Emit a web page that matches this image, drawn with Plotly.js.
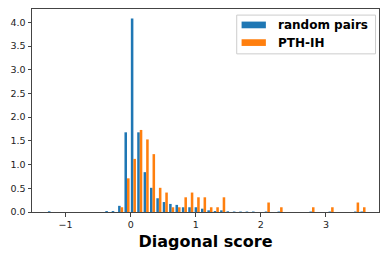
<!DOCTYPE html>
<html>
<head>
<meta charset="utf-8">
<script src="https://cdn.plot.ly/plotly-3.0.1.min.js"></script>
<style>html,body{margin:0;padding:0;background:#fff;}#chart{width:380px;height:255px;}</style>
</head>
<body>
<div id="chart"></div>
<script>
// Histogram bin centers (bin width ~0.098)
const binCenters = [-1.232,-1.134,-1.036,-0.938,-0.840,-0.742,-0.644,-0.546,-0.448,-0.350,
  -0.252,-0.154,-0.056,0.042,0.140,0.238,0.336,0.434,0.532,0.630,
  0.728,0.826,0.924,1.022,1.120,1.218,1.316,1.414,1.512,1.610,
  1.708,1.806,1.904,2.002,2.100,2.198,2.296,2.394,2.492,2.590,
  2.688,2.786,2.884,2.982,3.080,3.178,3.276,3.374,3.472,3.570];
// Density values
const randomPairs = [0.015,0,0,0,0,0,0,0,0,0.02,
  0.02,0.13,1.68,4.08,1.68,0.84,0.51,0.29,0.21,0.17,
  0.15,0.10,0.10,0.10,0.07,0.035,0.02,0.035,0.015,0.01,
  0.01,0.01,0.01,0,0.01,0,0.01,0,0,0,
  0,0.01,0,0,0.01,0,0,0,0.01,0.01];
const pthIH = [0,0,0,0,0,0,0,0,0,0,
  0,0.10,0.71,1.12,1.73,1.53,1.22,0.51,0.41,0.10,
  0.10,0.31,0.41,0.31,0.31,0.10,0.10,0.31,0,0,
  0,0,0,0,0.20,0,0.10,0,0,0,
  0,0.10,0,0,0.10,0,0,0,0.20,0.10];
const seriesNames = ['random pairs', 'PTH-IH'];
const xTicks = [-1, 0, 1, 2, 3];
const yTicks = [0, 0.5, 1, 1.5, 2, 2.5, 3, 3.5, 4];
const xTitle = 'Diagonal score';

const blue = '#1f77b4', orange = '#ff7f0e';
const axisColor = '#444';
const tickFont = {family: 'DejaVu Sans', size: 9.5, color: '#222'};

const traces = [
  {type: 'bar', x: binCenters, y: randomPairs, name: seriesNames[0],
   marker: {color: blue, line: {width: 0}}, showlegend: false, hoverinfo: 'skip'},
  {type: 'bar', x: binCenters, y: pthIH, name: seriesNames[1],
   marker: {color: orange, line: {width: 0}}, showlegend: false, hoverinfo: 'skip'}
];

// legend geometry (paper coords)
const legendFont = {family: 'DejaVu Sans', size: 12, color: '#000', weight: 'bold'};
const shapes = [
  {type: 'rect', xref: 'paper', yref: 'paper', x0: 0.590, x1: 0.990, y0: 0.779, y1: 0.970,
   line: {color: '#cccccc', width: 1}, fillcolor: 'rgba(255,255,255,0.8)', layer: 'above'},
  {type: 'rect', xref: 'paper', yref: 'paper', x0: 0.604, x1: 0.674, y0: 0.905, y1: 0.938,
   line: {width: 0}, fillcolor: blue, layer: 'above'},
  {type: 'rect', xref: 'paper', yref: 'paper', x0: 0.604, x1: 0.674, y0: 0.818, y1: 0.851,
   line: {width: 0}, fillcolor: orange, layer: 'above'}
];
const annotations = [
  {xref: 'paper', yref: 'paper', x: 0.703, y: 0.920, xanchor: 'left', yanchor: 'middle',
   text: seriesNames[0], showarrow: false, font: legendFont},
  {xref: 'paper', yref: 'paper', x: 0.703, y: 0.834, xanchor: 'left', yanchor: 'middle',
   text: seriesNames[1], showarrow: false, font: legendFont}
];

const layout = {
  width: 380, height: 255,
  margin: {l: 32, r: 1, t: 9, b: 43, pad: 0},
  paper_bgcolor: '#fff', plot_bgcolor: '#fff',
  barmode: 'group', bargap: 0.2, bargroupgap: 0,
  xaxis: {
    range: [-1.516, 3.816], tickvals: xTicks, ticktext: xTicks.map(v => v < 0 ? '\u2212' + Math.abs(v) : String(v)),
    showgrid: false, zeroline: false, showline: true, mirror: true,
    linecolor: axisColor, linewidth: 1, ticks: 'outside', ticklen: 3.5, tickwidth: 1, tickcolor: axisColor,
    tickfont: tickFont,
    title: {text: xTitle, font: {family: 'DejaVu Sans', size: 16, color: '#000', weight: 'bold'}, standoff: 6}
  },
  yaxis: {
    range: [0, 4.28], tickvals: yTicks, ticktext: yTicks.map(v => v.toFixed(1)),
    showgrid: false, zeroline: false, showline: true, mirror: true,
    linecolor: axisColor, linewidth: 1, ticks: 'outside', ticklen: 3.5, tickwidth: 1, tickcolor: axisColor,
    tickfont: tickFont
  },
  shapes: shapes,
  annotations: annotations,
  font: {family: 'DejaVu Sans'}
};

Plotly.newPlot('chart', traces, layout, {staticPlot: true, displayModeBar: false});
</script>
</body>
</html>
